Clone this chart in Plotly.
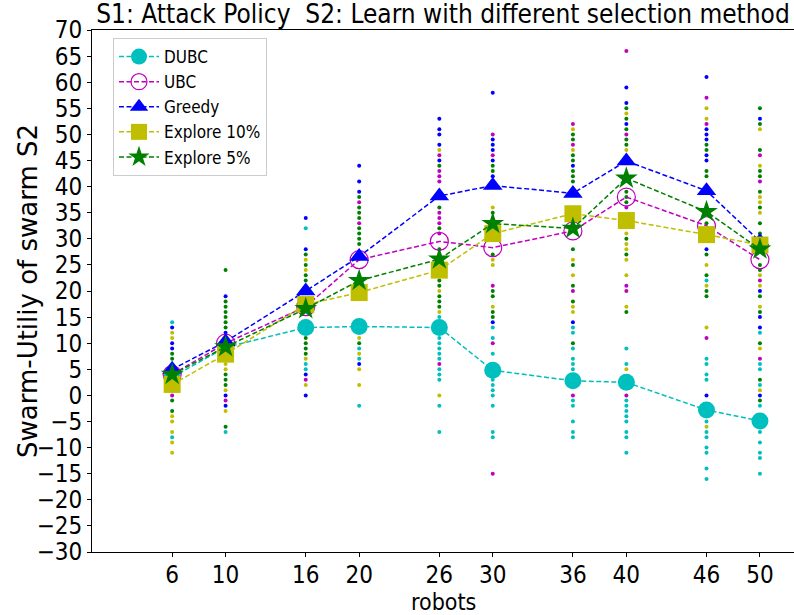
import plotly.graph_objects as go

# Swarm sizes on the x axis
ROBOTS = [6, 10, 16, 20, 26, 30, 36, 40, 46, 50]

# Mean swarm utility per selection method
DUBC_MEAN = [3.5, 9.2, 13.0, 13.2, 13.0, 4.8, 2.8, 2.5, -2.8, -4.9]
UBC_MEAN = [4.0, 10.0, 17.0, 26.0, 29.5, 28.3, 31.5, 38.0, 32.5, 26.0]
GREEDY_MEAN = [5.0, 10.3, 20.0, 26.6, 38.2, 40.2, 38.7, 44.9, 39.2, 29.5]
EXPLORE10_MEAN = [2.1, 7.9, 17.4, 19.7, 24.0, 31.0, 34.8, 33.5, 30.8, 28.8]
EXPLORE5_MEAN = [4.0, 9.3, 16.6, 22.0, 26.1, 32.9, 32.0, 41.6, 35.2, 28.0]

# Individual run results per swarm size (one list per x value)
DUBC_RUNS = [
    [14, -8], [-7], [32, 6, 5], [9, 7, -2],
    [15, 11, 10, 9, 8, 7, 5, 4, 3, -2, -7],
    [13, 11, 8, 3, 2, 1, 0, -2, -7, -8],
    [13, 12, 9, 7, 6, 5, -1, -2, -5, -7, -8],
    [9, 6, -1, -2, -3, -4, -5, -7, -8, -11],
    [22, 7, 6, 4, 3, -5, -7, -8, -10, -11, -14, -16],
    [12, 6, 5, 2, -2, -7, -9, -11, -12, -15],
]
UBC_RUNS = [
    [0], [-1], [3], [37, 33],
    [46, 43, 42, 41, 35, 34, 33, 31, 6],
    [50, 46, 21, 10, -15],
    [52, 48, 20, 0],
    [66, 50, 36, 21, 20, 0],
    [57, 52, 11],
    [46, 41, 22, 7],
]
GREEDY_RUNS = [
    [13, 10, 9], [19, 12, 0, -2], [34, 28, 4, 0], [44, 41, 39, 6],
    [53, 51, 50, 48, 45],
    [58, 49, 48, 47, 45, 42, 14],
    [44, 14],
    [59, 56, 52],
    [61, 51, 50, 49, 46, 45, 28, 0],
    [53, 20, 15, 13, 0],
]
EXPLORE10_RUNS = [
    [12, 11, -4, -5, -7, -9, -11], [6, 5, 1, -3], [26, 24, 7, 2], [11, 8, 5, 2],
    [47, 20, 16, 0],
    [36, 26, 25, 17],
    [51, 47, 26, 23, 17, 16],
    [54, 47, 31, 29, 28, 26, 23, 17, 5],
    [55, 53, 25, 21, 13, -6],
    [51, 44, 38, 37, 35, 23, 21, 17, 9, 1],
]
EXPLORE5_RUNS = [
    [8, 7, -1, -3],
    [24, 18, 17, 16, 15, 14, 13, 4, 3, 2, -6],
    [27, 25, 23, 22, 11, 10, 9, 8],
    [38, 36, 35, 34, 32, 31, 30, 29, 10],
    [44, 36, 32, 28, 25, 23, 22, 21, 19, 18, 17],
    [44, 43, 35, 27, 20, 19, 16, 15],
    [50, 49, 46, 45, 43, 42, 41, 28, 25, 21, 18, 10],
    [55, 53, 51, 49, 48, 39, 38, 37, 30, 27, 16],
    [48, 47, 43, 42, 33, 27, 23, 20, 19],
    [55, 52, 47, 43, 42, 39, 36, 33, 31, 25, 24, 19, 16, 10, 3, -1],
]

Y_TICKS = list(range(-30, 71, 5))

SERIES = [
    ("DUBC", DUBC_MEAN, DUBC_RUNS, "#00bfbf", "circle", 17),
    ("UBC", UBC_MEAN, UBC_RUNS, "#bf00bf", "circle-open", 18),
    ("Greedy", GREEDY_MEAN, GREEDY_RUNS, "#0000ff", "triangle-up", 17),
    ("Explore 10%", EXPLORE10_MEAN, EXPLORE10_RUNS, "#bfbf00", "square", 17),
    ("Explore 5%", EXPLORE5_MEAN, EXPLORE5_RUNS, "#008000", "star", 17),
]

COND = "DejaVu Sans Condensed, DejaVu Sans, sans-serif"

# plot area in pixels
L, R, T, B = 92, 794, 30, 552
W, H = 794, 615
PW, PH = R - L, B - T

fig = go.Figure()

# scattered individual runs
for name, mean, runs, color, symbol, size in SERIES:
    xs, ys = [], []
    for x, vals in zip(ROBOTS, runs):
        xs += [x] * len(vals)
        ys += vals
    fig.add_trace(go.Scatter(
        x=xs, y=ys, mode="markers", showlegend=False, hoverinfo="skip",
        marker=dict(size=4, color=color, line=dict(width=0)),
    ))

# mean curves
for name, mean, runs, color, symbol, size in SERIES:
    mk = dict(size=size, symbol=symbol, color=color)
    if symbol == "circle-open":
        mk["line"] = dict(width=1.2, color=color)
    else:
        mk["line"] = dict(width=0)
    fig.add_trace(go.Scatter(
        x=ROBOTS, y=mean, mode="lines+markers", name=name,
        line=dict(color=color, width=1.5, dash="5px,2.5px"),
        marker=mk,
    ))

fig.update_layout(
    width=W, height=H,
    margin=dict(l=L, r=W - R, t=T, b=H - B),
    paper_bgcolor="white", plot_bgcolor="white",
    title=dict(
        text="S1: Attack Policy  S2: Learn with different selection method",
        x=(L + R) / 2 / W, xanchor="center", y=1 - 14 / H, yanchor="middle",
        font=dict(family=COND, size=26, color="black"),
    ),
    legend=dict(
        x=(113 - L) / PW, y=1 - (38 - T) / PH, xanchor="left", yanchor="top",
        bgcolor="white", bordercolor="#cccccc", borderwidth=1,
        font=dict(family=COND, size=17, color="black"),
        tracegroupgap=0, itemwidth=40,
    ),
    showlegend=True,
    annotations=[
        dict(text="robots", xref="paper", yref="paper",
             x=(443 - L) / PW, y=-(602 - B) / PH, xanchor="center", yanchor="middle",
             borderpad=0,
             showarrow=False, font=dict(family=COND, size=23, color="black")),
        dict(text="Swarm-Utiliy of swarm S2", xref="paper", yref="paper",
             x=(28 - L) / PW, y=0.5, xanchor="center", yanchor="middle", textangle=-90,
             showarrow=False, font=dict(family="DejaVu Sans", size=26, color="black")),
    ],
)

fig.update_xaxes(
    range=[0, 52.55], tickmode="array", tickvals=ROBOTS,
    ticktext=[str(v) for v in ROBOTS],
    showgrid=False, zeroline=False,
    showline=True, linecolor="black", linewidth=1, mirror=True,
    ticks="outside", ticklen=4, tickcolor="black",
    ticklabelstandoff=-3,
    tickfont=dict(family=COND, size=24, color="black"),
)
fig.update_yaxes(
    range=[-30, 70], tickmode="array", tickvals=Y_TICKS,
    showgrid=False, zeroline=False,
    showline=True, linecolor="black", linewidth=1,
    ticks="outside", ticklen=4, tickcolor="black",
    tickfont=dict(family=COND, size=24, color="black"),
)

fig.write_html("out.html")
